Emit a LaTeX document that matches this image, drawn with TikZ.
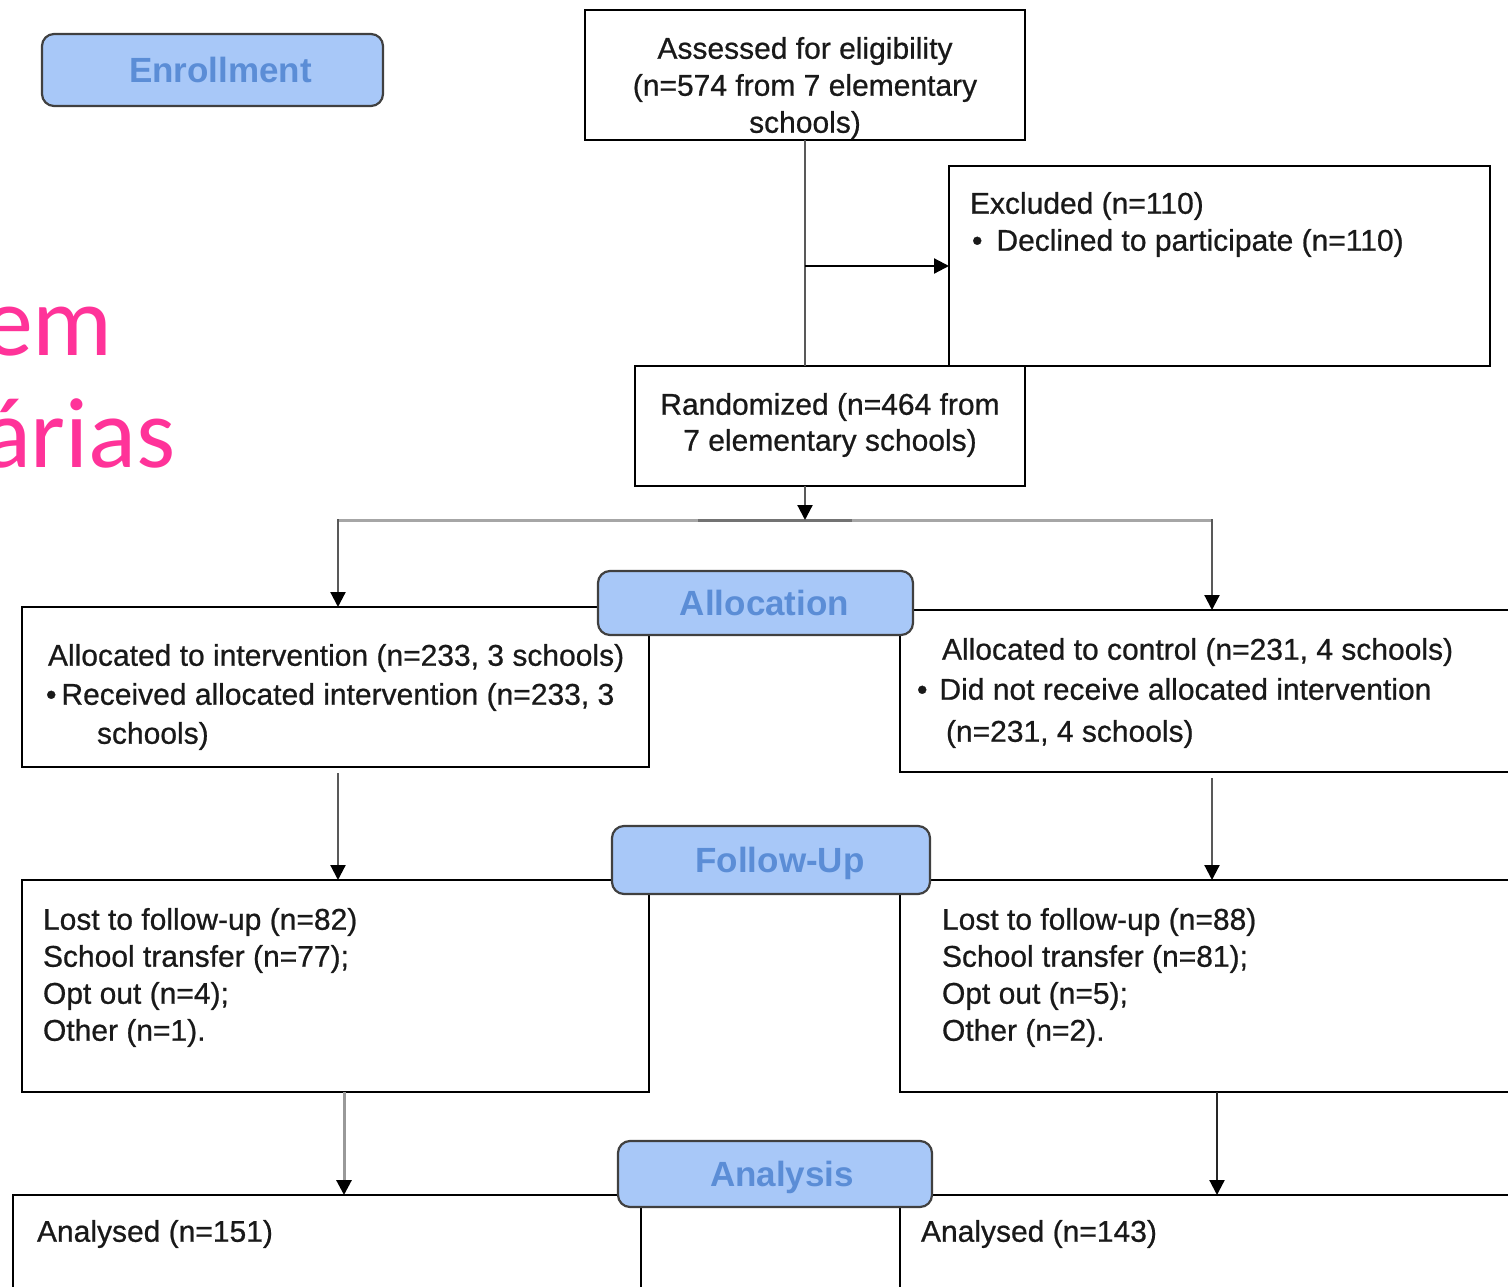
\documentclass[tikz,border=0pt]{standalone}
\usepackage{fontspec}
\setmainfont{Liberation Sans}
\newfontfamily\boxfont{Liberation Sans}[FakeBold=0.7]
\newfontfamily\pinkfont{Carlito}
\usetikzlibrary{arrows.meta,calc}
\definecolor{lblfill}{HTML}{A8C8F8}
\definecolor{lbltext}{HTML}{5B8DD6}
\definecolor{pinkc}{HTML}{FF3399}
\begin{document}
\begin{tikzpicture}[x=1pt,y=-1pt,
  box/.style={draw=black, line width=2.6pt, inner sep=0pt, outer sep=0pt, anchor=north west},
  txt/.style={font=\boxfont\fontsize{30}{37}\selectfont, inner sep=0pt, outer sep=0pt, align=left, anchor=north west, text=black!90},
  ctxt/.style={txt, align=center, anchor=north},
  lbl/.style={draw=black!75, line width=2.2pt, rounded corners=12pt, fill=lblfill, text=lbltext,
    font=\bfseries\fontsize{35}{40}\selectfont, inner sep=0pt, outer sep=0pt, text height=25pt, text depth=0pt},
  conn/.style={draw=black!65, line width=2.2pt, -{Triangle[width=15pt,length=15pt,color=black]}},
  lconn/.style={conn, draw=black!40, line width=3pt},
  pink/.style={anchor=base east, inner sep=0pt, text=pinkc, font=\pinkfont\fontsize{100}{100}\selectfont}
]
\useasboundingbox (0,0) rectangle (1508,1287);
\clip (0,0) rectangle (1508,1287);

% pink partial text
\node[pink] (pk1) at (113,355) {em};
\node[pink] (pk2) at (176,467) {árias};

% boxes
\node[box, minimum width=440pt, minimum height=130pt] (asses) at (585,10) {};
\node[box, minimum width=541pt, minimum height=200pt] (excl) at (949,166) {};
\node[box, minimum width=390pt, minimum height=120pt] (rand) at (635,366) {};
\node[box, minimum width=627pt, minimum height=160pt] (int) at (22,607) {};
\node[box, minimum width=630pt, minimum height=162pt] (ctrl) at (900,610) {};
\node[box, minimum width=627pt, minimum height=212pt] (lostL) at (22,880) {};
\node[box, minimum width=630pt, minimum height=212pt] (lostR) at (900,880) {};
\node[box, minimum width=628pt, minimum height=130pt] (anaL) at (13,1195) {};
\node[box, minimum width=630pt, minimum height=130pt] (anaR) at (900,1195) {};

% texts
\node[ctxt] (tasses) at (805,37) {Assessed for eligibility\\(n=574 from 7 elementary\\schools)};
\node[txt] (texcl) at (970,192) {Excluded (n=110)\\\hspace*{2pt}•\hspace*{14pt}Declined to participate (n=110)};
\node[ctxt, font=\boxfont\fontsize{30}{36}\selectfont] (trand) at (830,393) {Randomized (n=464 from\\7 elementary schools)};
\node[txt, font=\boxfont\fontsize{30}{39}\selectfont] (tint) at (46,644) {\hspace*{2pt}Allocated to intervention (n=233, 3 schools)\\•\hspace*{5pt}Received allocated intervention (n=233, 3\\\hspace*{51pt}schools)};
\node[txt, font=\boxfont\fontsize{30}{40}\selectfont] (tctrl) at (917,638) {\hspace*{25pt}Allocated to control (n=231, 4 schools)\\•\hspace*{12pt}Did not receive allocated intervention\\[2pt]\hspace*{29pt}(n=231, 4 schools)};
\node[txt] (tlostL) at (43,908) {Lost to follow-up (n=82)\\School transfer (n=77);\\Opt out (n=4);\\Other (n=1).};
\node[txt] (tlostR) at (942,908) {Lost to follow-up (n=88)\\School transfer (n=81);\\Opt out (n=5);\\Other (n=2).};
\node[txt] (tanaL) at (37,1220) {Analysed (n=151)};
\node[txt] (tanaR) at (921,1220) {Analysed (n=143)};

% connectors
\coordinate (split) at (805,266);
\coordinate (cL) at (338,520);
\coordinate (cR) at (1212,520);
\coordinate (dm1) at (698,520);
\coordinate (dm2) at (852,520);
\coordinate (fL) at (344,0);
\coordinate (fR) at (1217,0);
\draw[draw=black!65, line width=2.2pt] (asses.south) -- (asses.south |- rand.north);
\draw[conn, draw=black] (split) -- (excl.west |- split);
\draw[line width=3pt, draw=black!35] (cL) -- (cR);
\draw[line width=3pt, draw=black!55] (dm1) -- (dm2);
\draw[conn] (rand.south -| split) -- (split |- cL);
\draw[line width=2.2pt, draw=black!65] (cL) -- ++(0,-1.1);
\draw[line width=2.2pt, draw=black!65] (cR) -- ++(0,-1.1);
\draw[conn] (cL) -- (cL |- int.north);
\draw[conn] (cR) -- (cR |- ctrl.north);
\draw[conn] ([yshift=-6pt]int.south -| cL) -- (cL |- lostL.north);
\draw[conn] ([yshift=-6pt]ctrl.south -| cR) -- (cR |- lostR.north);
\draw[lconn] (lostL.south -| fL) -- (fL |- anaL.north);
\draw[conn, draw=black!85] (lostR.south -| fR) -- (fR |- anaR.north);

% phase labels
\node[lbl, minimum width=341pt, minimum height=72pt] (enr) at (212.5,70) {\hspace*{16pt}Enrollment};
\node[lbl, minimum width=315pt, minimum height=64pt] (alloc) at (755.5,603) {\hspace*{18pt}Allocation};
\node[lbl, minimum width=318pt, minimum height=68pt] (fup) at (771,860) {\hspace*{18pt}Follow-Up};
\node[lbl, minimum width=314pt, minimum height=66pt] (ana) at (775,1174) {\hspace*{14pt}Analysis};
\end{tikzpicture}
\end{document}
